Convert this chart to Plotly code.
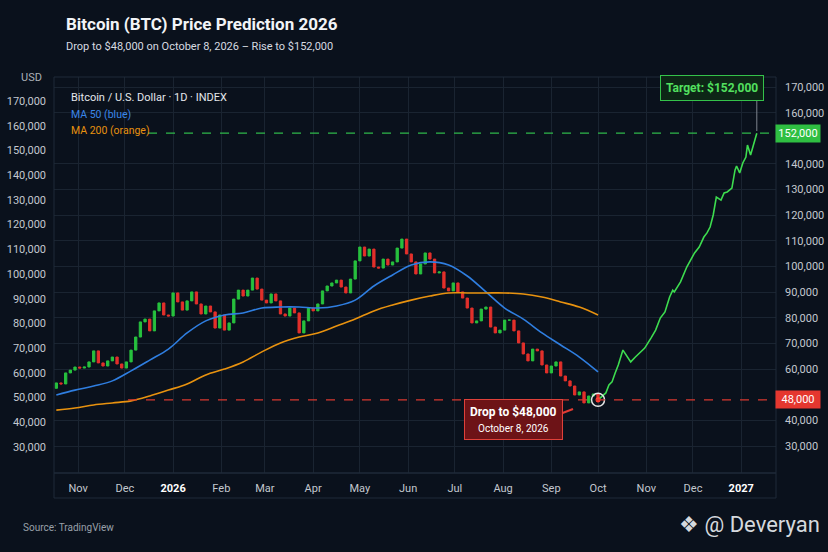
import pandas as pd
import plotly.graph_objects as go

# ---- values (USD) ----
candle_start = "2025-10-18"   # one candle every 3 days
first_open = 52500
closes = [54600, 54200, 58500, 59600, 60800, 60400, 60800, 62800, 67100, 62400,
          61200, 63200, 64700, 62000, 60400, 62800, 67400, 72500, 78400, 79500,
          74900, 82700, 85800, 81100, 80700, 89700, 86200, 83000, 86600, 90100,
          85400, 81500, 84600, 82300, 76000, 81100, 75200, 78000, 87300, 90800,
          88500, 90800, 95500, 91200, 86900, 85800, 89300, 86600, 81500, 80700,
          83800, 81900, 74100, 78800, 83800, 82700, 85400, 90500, 92400, 93600,
          94700, 92000, 89700, 95100, 102200, 107600, 104100, 106800, 99800, 99400,
          102900, 100600, 101800, 107200, 110700, 104900, 101800, 97100, 101000, 105300,
          102900, 97500, 97900, 91600, 90500, 93600, 90100, 87700, 83800, 78000,
          78800, 83400, 84200, 76400, 74100, 75200, 79100, 79100, 74900, 70200,
          65900, 63200, 67800, 67100, 61600, 58500, 61200, 62800, 57300, 55400,
          53400, 49900, 51100, 46800, 49500, 50300, 47200]

ma_start = "2025-10-18"   # one MA point every 12 days
ma50 = [49900, 51800, 53400, 55400, 59300, 63500, 67800, 74100, 78800, 81100,
        81900, 83800, 84200, 84200, 83800, 84600, 86900, 92400, 96700, 100600,
        101800, 100600, 96300, 90100, 83800, 79500, 74100, 69400, 64700, 58900]
ma200 = [44000, 44800, 46000, 46800, 47600, 49500, 51800, 54200, 57700, 60000,
         62800, 66700, 70200, 72500, 74100, 76800, 79500, 82700, 85000, 86900,
         88500, 89700, 89700, 89700, 89700, 89300, 88100, 86200, 84200, 81100]

forecast_dates = ["2026-10-01", "2026-10-06", "2026-10-08", "2026-10-10", "2026-10-12",
                  "2026-10-14", "2026-10-17", "2026-10-20", "2026-10-22", "2026-10-25",
                  "2026-10-28", "2026-10-31", "2026-11-04", "2026-11-07", "2026-11-10",
                  "2026-11-13", "2026-11-16", "2026-11-18", "2026-11-19", "2026-11-23",
                  "2026-11-27", "2026-11-29", "2026-12-02", "2026-12-05", "2026-12-08",
                  "2026-12-10", "2026-12-12", "2026-12-14", "2026-12-16", "2026-12-19",
                  "2026-12-21", "2026-12-23", "2026-12-26", "2026-12-28", "2026-12-29",
                  "2026-12-31", "2027-01-02", "2027-01-04", "2027-01-05", "2027-01-07",
                  "2027-01-09", "2027-01-11"]
forecast_prices = [48000, 50700, 53800, 55000, 58500, 61600, 67400, 64300, 62800, 64700,
                   66300, 68200, 72100, 75200, 79900, 82300, 88100, 90800, 90100, 94000,
                   99800, 101800, 105300, 107600, 111500, 113100, 115400, 120100, 127100, 125900,
                   128700, 129100, 130600, 137600, 139200, 136500, 140400, 142700, 147400, 143500,
                   148200, 152000]

drop_date = "2026-10-01"
drop_price = 48000
target_date = "2027-01-11"
target_price = 152000

month_ticks = ["2025-11-01", "2025-12-01", "2026-01-01", "2026-02-01", "2026-03-01",
               "2026-04-01", "2026-05-01", "2026-06-01", "2026-07-01", "2026-08-01",
               "2026-09-01", "2026-10-01", "2026-11-01", "2026-12-01", "2027-01-01"]
month_labels = ["Nov", "Dec", "2026", "Feb", "Mar", "Apr", "May", "Jun", "Jul", "Aug",
                "Sep", "Oct", "Nov", "Dec", "2027"]
left_ticks = [30000, 40000, 50000, 60000, 70000, 80000, 90000, 100000, 110000,
              120000, 130000, 140000, 150000, 160000, 170000]
right_ticks = [30000, 40000, 60000, 70000, 80000, 90000, 100000, 110000,
               120000, 130000, 140000, 160000, 170000]

# ---- derived ----
dates = pd.date_range(candle_start, periods=len(closes), freq="3D")
opens = [first_open] + closes[:-1]
highs = [max(o, c) for o, c in zip(opens, closes)]
lows = [min(o, c) for o, c in zip(opens, closes)]
ma_dates = pd.date_range(ma_start, periods=len(ma50), freq="12D")
ticktext = ["<span style='color:#ffffff'><b>%s</b></span>" % m if m.isdigit() else m
            for m in month_labels]

BG = "#0a111c"
GRID = "#1a2431"
TXT = "#c3c8cf"
FONT = "Roboto, sans-serif"

# plot box in pixels: x 54..776, y 77..473
def px(x, y):
    return (x - 54) / 722, (473 - y) / 396

fig = go.Figure()
fig.add_trace(go.Candlestick(x=dates, open=opens, high=highs, low=lows, close=closes,
                             increasing=dict(line=dict(color="#27c13e", width=1), fillcolor="#27c13e"),
                             decreasing=dict(line=dict(color="#e3302b", width=1), fillcolor="#e3302b"),
                             hoverinfo="skip"))
fig.add_trace(go.Scatter(x=ma_dates, y=ma50, mode="lines", line=dict(color="#2f7ee0", width=1.6, shape="spline")))
fig.add_trace(go.Scatter(x=ma_dates, y=ma200, mode="lines", line=dict(color="#e8920f", width=1.6, shape="spline")))
fig.add_trace(go.Scatter(x=forecast_dates, y=forecast_prices, mode="lines",
                         line=dict(color="#3ddc4f", width=1.6)))
fig.add_trace(go.Scatter(x=[drop_date], y=[drop_price], mode="markers",
                         marker=dict(symbol="circle-open", size=13, color="#e6e6e6", line=dict(width=1.5))))
fig.add_trace(go.Scatter(x=[drop_date], y=[drop_price], mode="markers",
                         marker=dict(size=5, color="#ff3b30")))
# invisible point so the left-hand price scale gets drawn
fig.add_trace(go.Scatter(x=[drop_date], y=[drop_price], mode="markers", yaxis="y2",
                         marker=dict(size=1, opacity=0), hoverinfo="skip"))

shapes = [
    dict(type="rect", xref="paper", yref="paper", x0=0, x1=1, y0=0, y1=1,
         line=dict(color="#1f2a38", width=1)),
    dict(type="rect", xref="paper", yref="paper", x0=0, x1=1, y0=-25 / 396, y1=0,
         line=dict(color="#1f2a38", width=1)),
    dict(type="line", xref="paper", yref="y", x0=px(148, 0)[0], x1=1, y0=target_price, y1=target_price,
         line=dict(color="#2fb84a", width=1.2, dash="dash")),
    dict(type="line", xref="paper", yref="y", x0=px(128, 0)[0], x1=1, y0=drop_price, y1=drop_price,
         line=dict(color="#d8392f", width=1.2, dash="dash")),
    dict(type="line", xref="x", yref="paper", x0=target_date, x1=target_date,
         y0=px(0, 131)[1], y1=px(0, 100)[1], line=dict(color="#7d848d", width=1)),
    dict(type="line", xref="paper", yref="paper", x0=px(560, 414)[0], y0=px(560, 414)[1],
         x1=px(573, 409)[0], y1=px(573, 409)[1], line=dict(color="#e23b33", width=2)),
]

def note(x, y, text, **kw):
    ax, ay = px(x, y)
    d = dict(xref="paper", yref="paper", x=ax, y=ay, text=text, showarrow=False,
             font=dict(family=FONT, size=11, color=TXT), xanchor="left", yanchor="middle")
    d.update(kw)
    return d

annotations = [
    note(64, 24, "<b>Bitcoin (BTC) Price Prediction 2026</b>", font=dict(family=FONT, size=17, color="#f2f4f7")),
    note(64, 46, "Drop to $48,000 on October 8, 2026 \u2013 Rise to $152,000",
         font=dict(family=FONT, size=11, color="#d6dae0")),
    note(31, 77, "USD", xanchor="center", font=dict(family=FONT, size=11, color="#aab0b8")),
    note(69, 98, "Bitcoin / U.S. Dollar \u00b7 1D \u00b7 INDEX", font=dict(family=FONT, size=11, color="#e4e7eb")),
    note(69, 114, "MA 50 (blue)", font=dict(family=FONT, size=10.5, color="#3a86e8")),
    note(69, 130, "MA 200 (orange)", font=dict(family=FONT, size=10.5, color="#e8920f")),
    note(712, 88, "<b>Target: $152,000</b>", xanchor="center",
         font=dict(family=FONT, size=12, color="#52e05f"),
         bgcolor="#0d2616", bordercolor="#34c24a", borderwidth=1, borderpad=5),
    note(513, 419, "<b>Drop to $48,000</b><br><span style='font-size:10px'>October 8, 2026</span>",
         xanchor="center", font=dict(family=FONT, size=12, color="#ffffff"),
         bgcolor="#6d1317", bordercolor="#e0413a", borderwidth=1, borderpad=5),
    dict(xref="paper", yref="y", x=px(798, 0)[0], y=target_price, text="152,000", showarrow=False,
         xanchor="center", font=dict(family=FONT, size=11, color="#ffffff"),
         bgcolor="#2fbf42", borderpad=2, width=40),
    dict(xref="paper", yref="y", x=px(798, 0)[0], y=drop_price, text="48,000", showarrow=False,
         xanchor="center", font=dict(family=FONT, size=11, color="#ffffff"),
         bgcolor="#e5372f", borderpad=2, width=40),
    note(21, 527, "Source: TradingView", font=dict(family=FONT, size=10, color="#98a0a9")),
    note(822, 524, "\u2756 @ Deveryan", xanchor="right",
         font=dict(family=FONT, size=22, color="#d5d9de")),
]

fig.update_layout(
    width=828, height=552,
    margin=dict(l=54, r=52, t=77, b=79),
    paper_bgcolor=BG, plot_bgcolor=BG,
    showlegend=False, hovermode=False,
    font=dict(family=FONT, size=11, color=TXT),
    shapes=shapes, annotations=annotations,
    xaxis=dict(type="date", range=["2025-10-16 12:00", "2027-01-23 08:00"], automargin=False,
               tickvals=month_ticks, ticktext=ticktext, showgrid=True, gridcolor=GRID,
               ticks="", ticklabelstandoff=7, zeroline=False, showline=False,
               rangeslider=dict(visible=False), tickfont=dict(size=11, color=TXT)),
    yaxis=dict(side="right", range=[19470, 173920], tickvals=right_ticks, tickformat=",d",
               automargin=False, showgrid=True, gridcolor=GRID, zeroline=False, ticks="",
               ticklabelstandoff=8, tickfont=dict(size=11, color=TXT)),
    yaxis2=dict(side="left", overlaying="y", range=[19480, 179710], tickvals=left_ticks,
                automargin=False, tickformat=",d", showgrid=False, zeroline=False, ticks="",
                ticklabelstandoff=7, tickfont=dict(size=11, color=TXT)),
)

# the page's default body margin would push the figure 8px right and down
fig.write_html("out.html", config={"displayModeBar": False},
               post_script="document.body.style.margin='0';document.body.style.background='%s';" % BG)
